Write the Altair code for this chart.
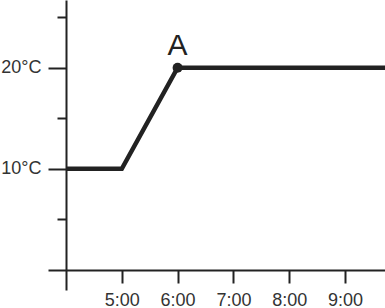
import altair as alt
import pandas as pd

# data
hours = [4, 5, 6, 9.72]
temps = [10, 10, 20, 20]
point_hour = [6]
point_temp = [20]
point_label = ["A"]
x_ticks = [5, 6, 7, 8, 9]
y_ticks = [0, 5, 10, 15, 20, 25]
y_labels = [10, 20]

line_df = pd.DataFrame({"hour": hours, "temp": temps})
pt_df = pd.DataFrame({"hour": point_hour, "temp": point_temp, "label": point_label})

INK = "#222222"
FONT = "Liberation Sans"

xscale = alt.Scale(domain=[4, 9.717], nice=False, zero=False)
yscale = alt.Scale(domain=[-2, 26.7], nice=False, zero=False)

x_axis = alt.Axis(
    values=x_ticks,
    labelExpr="datum.value + ':00'",
    title=None,
    grid=False,
    offset=-20,
    domainColor=INK,
    domainWidth=2,
    tickColor=INK,
    tickWidth=2,
    tickSize=13,
    labelFont=FONT,
    labelFontSize=18,
    labelColor="#333333",
    labelPadding=8,
)

y_label_test = " || ".join(f"datum.value === {v}" for v in y_labels)
y_axis = alt.Axis(
    values=y_ticks,
    labelExpr=f"({y_label_test}) ? datum.value + '°C' : ''",
    title=None,
    grid=False,
    domainColor=INK,
    domainWidth=2,
    tickColor=INK,
    tickWidth=2,
    tickSize={"condition": {"test": "datum.value % 10 === 0", "value": 18}, "value": 9},
    labelFont=FONT,
    labelFontSize=18,
    labelColor="#333333",
    labelPadding=7,
)

line = alt.Chart(line_df).mark_line(color=INK, strokeWidth=4.5, clip=True).encode(
    x=alt.X("hour:Q", scale=xscale, axis=x_axis),
    y=alt.Y("temp:Q", scale=yscale, axis=y_axis),
)

pt = alt.Chart(pt_df).mark_circle(color=INK, size=100, opacity=1).encode(
    x=alt.X("hour:Q", scale=xscale),
    y=alt.Y("temp:Q", scale=yscale),
)

txt = alt.Chart(pt_df).mark_text(
    font=FONT, fontSize=30, color=INK, baseline="alphabetic", dy=-13, align="center"
).encode(
    x=alt.X("hour:Q", scale=xscale),
    y=alt.Y("temp:Q", scale=yscale),
    text="label:N",
)

chart = (
    alt.layer(line, pt, txt)
    .properties(
        width=319,
        height=290,
        autosize=alt.AutoSizeParams(type="none"),
        padding={"left": 66, "top": 0, "right": 0, "bottom": 18},
        background="white",
    )
    .configure_view(stroke=None)
)

chart.save("out.html", embed_options={"renderer": "svg", "actions": False})
